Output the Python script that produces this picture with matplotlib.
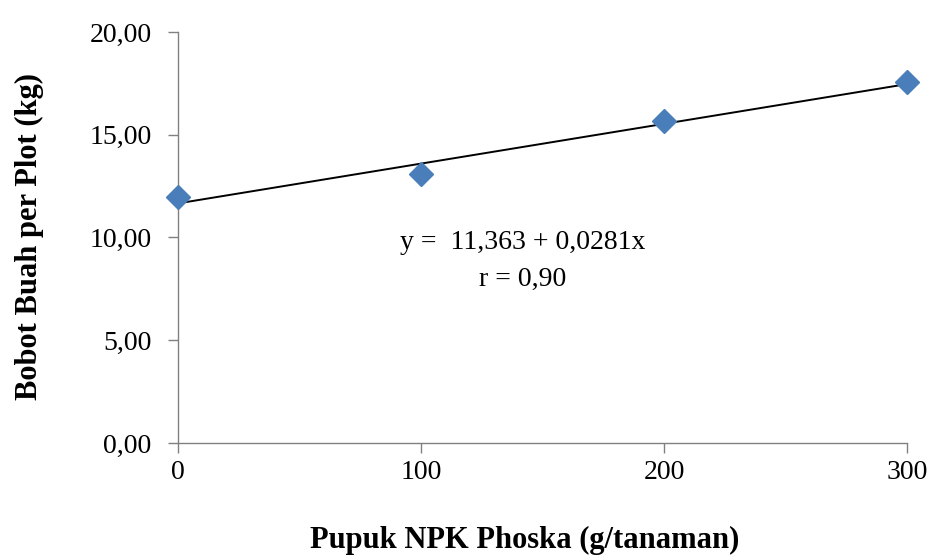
import numpy as np
import matplotlib.pyplot as plt
from matplotlib.ticker import FuncFormatter

dosis = [0, 100, 200, 300]
bobot = [11.95, 13.10, 15.65, 17.55]
persamaan = "y =  11,363 + 0,0281x"
korelasi = "r = 0,90"

plt.rcParams['font.family'] = ['Liberation Serif', 'DejaVu Serif']

fig = plt.figure(figsize=(9.34, 5.59), dpi=100)
ax = fig.add_axes([0.1906, 0.2075, 0.7805, 0.7353])

# garis tren dari regresi linear
b, a = np.polyfit(dosis, bobot, 1)
xs = np.array([min(dosis), max(dosis)])
ax.plot(xs, a + b * xs, color='black', linewidth=1.4, zorder=2)
ax.plot(dosis, bobot, linestyle='none', marker='D', markersize=12,
        color='#4a7ebb', markeredgecolor='#4a7ebb', zorder=3, clip_on=False)

ax.text(142, 9.75, persamaan, ha='center', va='center', fontsize=20)
ax.text(142, 7.95, korelasi, ha='center', va='center', fontsize=20)

ax.set_xlim(0, 300)
ax.set_ylim(0, 20)
ax.set_xticks([0, 100, 200, 300])
ax.set_yticks([0, 5, 10, 15, 20])
ax.yaxis.set_major_formatter(FuncFormatter(lambda v, p: f"{v:.2f}".replace('.', ',')))

for s in ['top', 'right']:
    ax.spines[s].set_visible(False)
for s in ['left', 'bottom']:
    ax.spines[s].set_color('#808080')
    ax.spines[s].set_linewidth(1.0)
ax.tick_params(axis='both', colors='#808080', labelcolor='black', labelsize=20,
               direction='out', length=7, width=1.0)
ax.tick_params(axis='y', pad=12)
ax.tick_params(axis='x', pad=5)

fig.text(525 / 934, 1 - 540 / 559, "Pupuk NPK Phoska (g/tanaman)",
         ha='center', va='center', fontsize=22, fontweight='bold')
fig.text(29 / 934, 1 - 236 / 559, "Bobot Buah per Plot (kg)", rotation=90,
         ha='center', va='center', fontsize=22, fontweight='bold')

fig.savefig('out.png', dpi=100, facecolor='white')
